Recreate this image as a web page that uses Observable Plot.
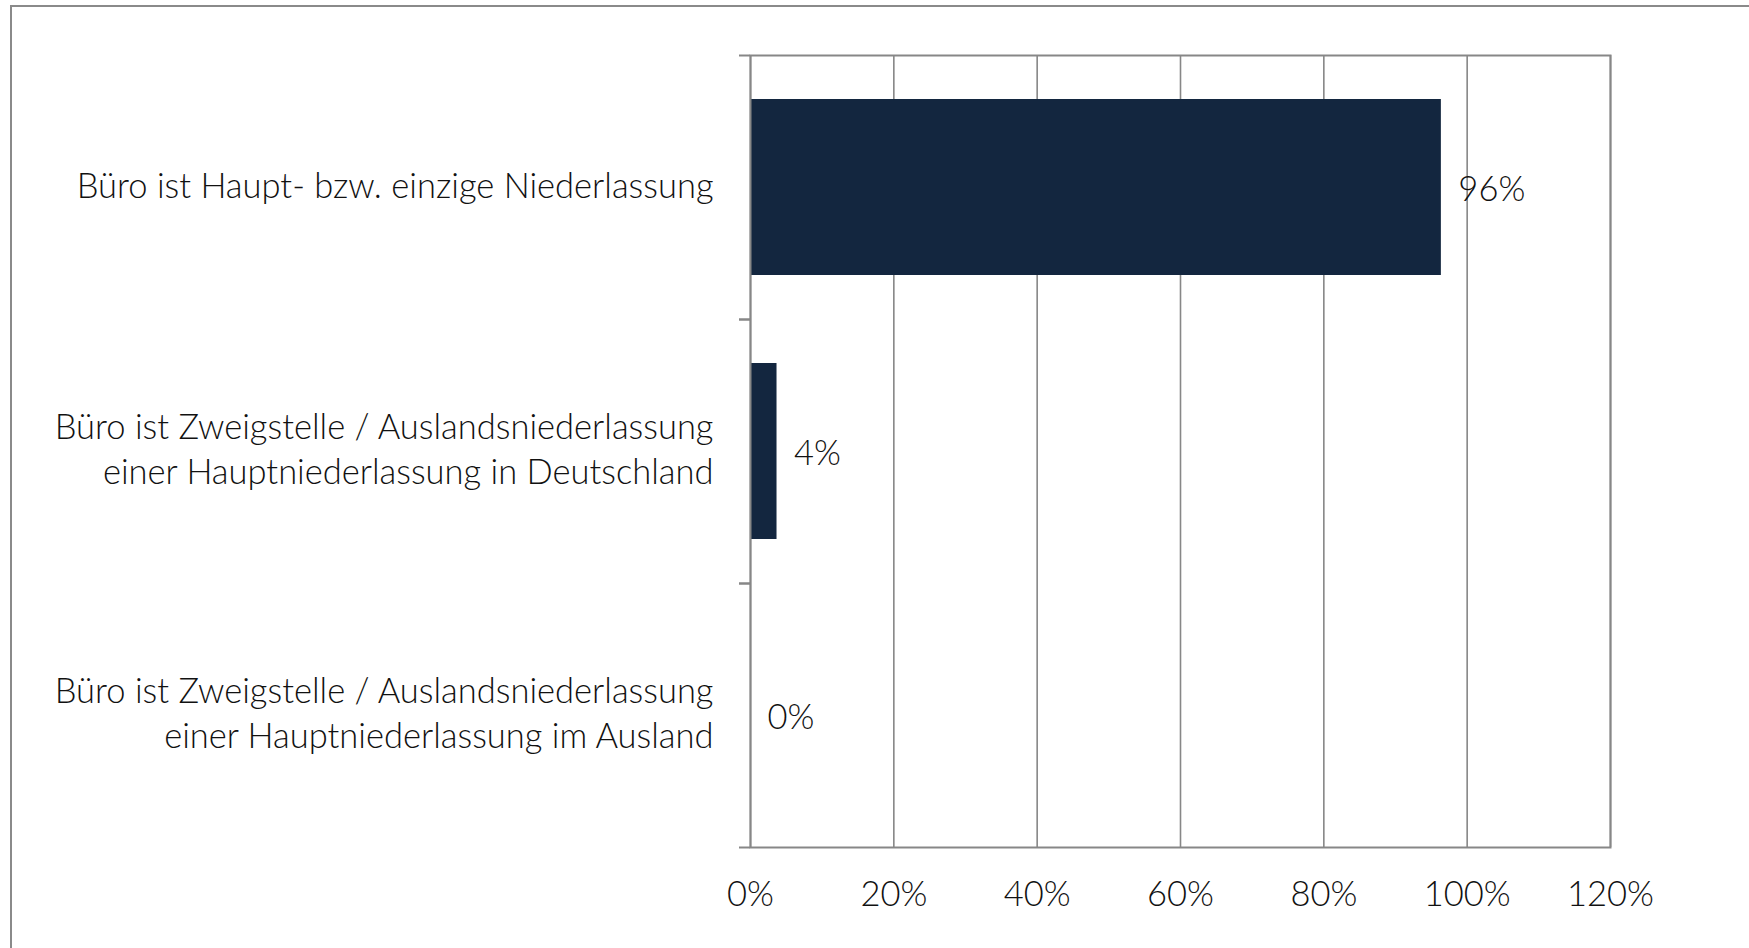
<!DOCTYPE html>
<html>
<head>
<meta charset="utf-8">
<script src="https://cdn.jsdelivr.net/npm/d3@7"></script>
<script src="https://cdn.jsdelivr.net/npm/@observablehq/plot@0.6"></script>
<style>
  html, body { margin: 0; padding: 0; background: #fff; overflow: hidden; }
  #wrap { position: relative; width: 1749px; height: 948px; }
  #border { position: absolute; left: 10px; top: 5px; width: 1760px; height: 960px; border: 2px solid #8a8a8a; box-sizing: border-box; }
  #chart { position: absolute; left: 0; top: 0; }
</style>
</head>
<body>
<div id="wrap"><div id="border"></div><div id="chart"></div></div>
<script>
const categories = [
  "Büro ist Haupt- bzw. einzige Niederlassung",
  "Büro ist Zweigstelle / Auslandsniederlassung\neiner Hauptniederlassung in Deutschland",
  "Büro ist Zweigstelle / Auslandsniederlassung\neiner Hauptniederlassung im Ausland"
];
const values = [96.4, 3.7, 0];
const xTicks = [0, 20, 40, 60, 80, 100, 120];

const data = categories.map((c, i) => ({category: c, value: values[i]}));

const W = 1749, H = 948, mt = 55, mb = 101, ml = 750, mr = 139;
const step = (H - mt - mb) / categories.length;
const grey = "#878787";
const fontSize = 34.5;

const chart = Plot.plot({
  width: W, height: H,
  marginLeft: ml, marginRight: mr, marginTop: mt, marginBottom: mb,
  x: {domain: [0, 120], label: null},
  y: {domain: categories, paddingInner: 1/3, paddingOuter: 1/6, label: null},
  style: {fontFamily: "Lato, 'Open Sans', sans-serif", fontWeight: 300, fontSize: fontSize + "px", color: "#111", background: "transparent"},
  marks: [
    Plot.gridX(xTicks, {stroke: grey, strokeOpacity: 1, strokeWidth: 1.6}),
    Plot.barX(data, {x: "value", y: "category", fill: "#13263F"}),
    Plot.frame({stroke: grey, strokeWidth: 2}),
    Plot.axisX(xTicks, {tickSize: 0, tickPadding: 34, tickFormat: d => d + "%", fontSize: fontSize, label: null}),
    Plot.axisY({tickSize: 11, stroke: grey, strokeWidth: 2, dy: -step / 2, tickFormat: () => "", label: null}),
    Plot.axisY({tickSize: 11, stroke: grey, strokeWidth: 2, dy: step / 2, tickFormat: () => "", label: null}),
    Plot.axisY({tickSize: 0, tickPadding: 37, lineHeight: 1.3, fontSize: fontSize, dy: -4, label: null}),
    Plot.text(data, {x: "value", y: "category", text: d => Math.round(d.value) + "%", textAnchor: "start", dx: 17, dy: 2, fontSize: fontSize, fill: "#111"})
  ]
});
document.getElementById("chart").appendChild(chart);
</script>
</body>
</html>
